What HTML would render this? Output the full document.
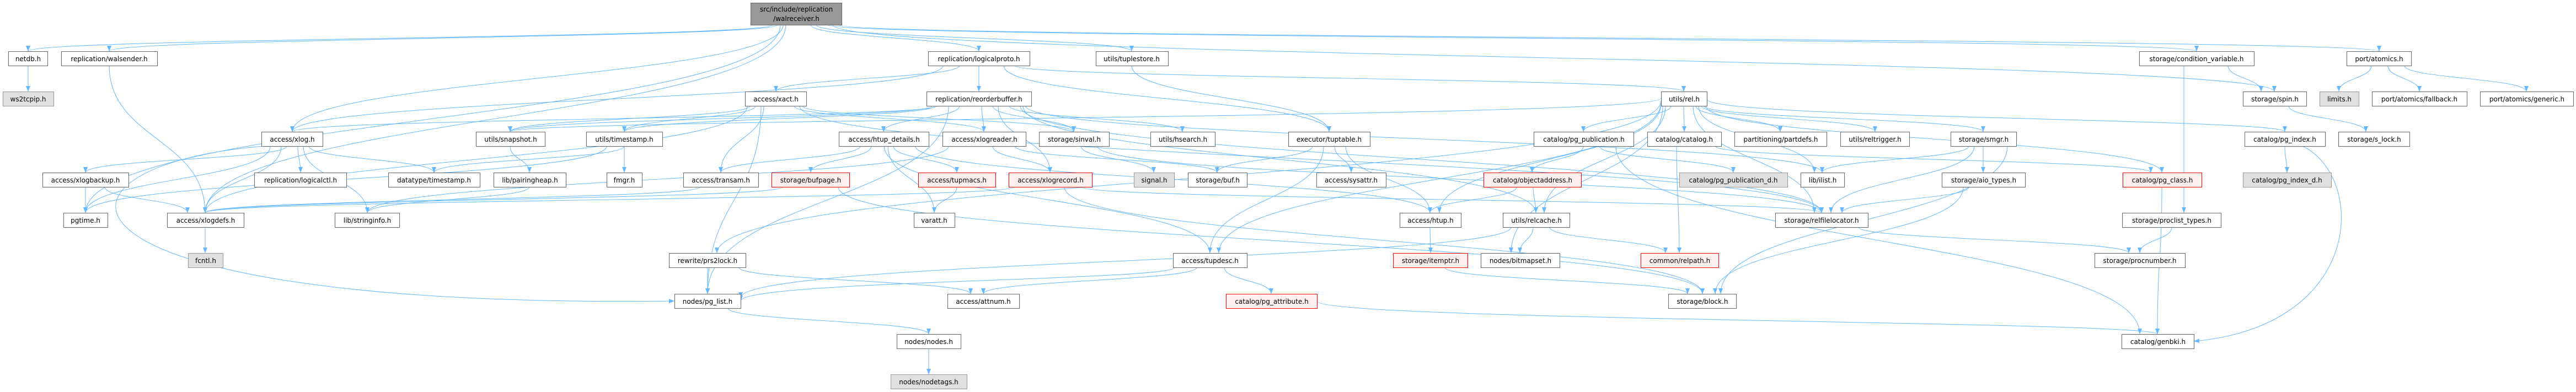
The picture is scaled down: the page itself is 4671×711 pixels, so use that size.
<!DOCTYPE html>
<html><head><meta charset="utf-8"><style>
html,body{margin:0;padding:0;background:#fff;}
svg{display:block;}
text{font-family:"DejaVu Sans","Liberation Sans",sans-serif;font-size:12px;fill:#000;text-anchor:middle;}
.n{fill:#fff;stroke:#666;stroke-width:1;}
.r{fill:#fff0f0;stroke:#f00;stroke-width:1;}
.g{fill:#e0e0e0;stroke:#999;stroke-width:1;}
.t{fill:#999;stroke:#666;stroke-width:1;}
.e path{fill:none;stroke:#63b8ff;stroke-width:1;marker-end:url(#a);}
</style></head><body>
<svg width="4671" height="711" viewBox="0 0 4671 711" xmlns="http://www.w3.org/2000/svg">
<defs><marker id="a" markerWidth="10" markerHeight="8" refX="10" refY="4" orient="auto" markerUnits="userSpaceOnUse"><path d="M0,0 L10,4 L0,8 z" fill="#63b8ff"/></marker></defs>
<g class="e">
<path d="M1400,45 C1400,69 51,69 51,93"/>
<path d="M1410,45 C1410,69 198,69 198,93"/>
<path d="M1420,45 C1420,142 530,142 530,239"/>
<path d="M1425,45 C1425,215 372,215 372,386"/>
<path d="M1415,45 C1415,215 155,215 155,386"/>
<path d="M1470,45 C1470,69 1775,69 1775,93"/>
<path d="M1480,45 C1480,69 2052,69 2052,93"/>
<path d="M1500,45 C1500,69 3983,69 3983,93"/>
<path d="M1510,45 C1510,105 4124,105 4124,166"/>
<path d="M1520,45 C1520,69 4314,69 4314,93"/>
<path d="M51,119 C51,142 51,142 51,166"/>
<path d="M198,119 C198,252 372,252 372,386"/>
<path d="M520,265 C520,289 155,289 155,313"/>
<path d="M540,265 C540,289 545,289 545,313"/>
<path d="M560,265 C560,289 787,289 787,313"/>
<path d="M510,265 C510,325 372,325 372,386"/>
<path d="M550,265 C550,325 666,325 666,386"/>
<path d="M490,265 C490,325 155,325 155,386"/>
<path d="M480,265 C40,300 40,560 1223,546"/>
<path d="M155,339 C155,362 155,362 155,386"/>
<path d="M190,339 C190,362 340,362 340,386"/>
<path d="M372,412 C372,435 372,435 372,459"/>
<path d="M1775,119 C1775,142 1775,142 1775,166"/>
<path d="M1710,119 C1710,179 530,179 530,239"/>
<path d="M1840,119 C1840,142 3053,142 3053,166"/>
<path d="M1820,119 C1820,179 2410,179 2410,239"/>
<path d="M1740,119 C1740,142 1407,142 1407,166"/>
<path d="M2052,119 C2052,179 2410,179 2410,239"/>
<path d="M1700,192 C1700,215 530,215 530,239"/>
<path d="M1740,192 C1740,215 1602,215 1602,239"/>
<path d="M1780,192 C1780,215 1784,215 1784,239"/>
<path d="M1800,192 C1800,215 1947,215 1947,239"/>
<path d="M1830,192 C1830,215 2144,215 2144,239"/>
<path d="M1690,192 C1690,215 925,215 925,239"/>
<path d="M1695,192 C1695,215 1132,215 1132,239"/>
<path d="M1850,192 C1850,289 3303,289 3303,386"/>
<path d="M1810,192 C1810,252 1904,252 1904,313"/>
<path d="M1720,192 C1720,362 1283,362 1283,533"/>
<path d="M1860,192 C1860,252 3304,252 3304,313"/>
<path d="M1855,192 C1855,289 2785,289 2785,386"/>
<path d="M1385,192 C1385,252 1307,252 1307,313"/>
<path d="M1360,192 C1360,215 925,215 925,239"/>
<path d="M1370,192 C1370,215 1132,215 1132,239"/>
<path d="M1440,192 C1440,215 1784,215 1784,239"/>
<path d="M1450,192 C1450,289 3303,289 3303,386"/>
<path d="M1455,192 C1455,215 1947,215 1947,239"/>
<path d="M1380,192 C1380,362 1283,362 1283,533"/>
<path d="M1355,192 C1355,289 372,289 372,386"/>
<path d="M925,265 C925,289 960,289 960,313"/>
<path d="M1132,265 C1132,289 787,289 787,313"/>
<path d="M1132,265 C1132,289 1132,289 1132,313"/>
<path d="M1100,265 C1100,325 155,325 155,386"/>
<path d="M960,339 C960,362 666,362 666,386"/>
<path d="M1560,265 C1560,289 1307,289 1307,313"/>
<path d="M1580,265 C1580,289 1470,289 1470,313"/>
<path d="M1620,265 C1620,289 1735,289 1735,313"/>
<path d="M1610,265 C1610,325 1694,325 1694,386"/>
<path d="M1603,265 C1603,362 2194,362 2194,459"/>
<path d="M1660,265 C1660,325 2593,325 2593,386"/>
<path d="M1800,265 C1800,289 1904,289 1904,313"/>
<path d="M1720,265 C1720,325 666,325 666,386"/>
<path d="M1840,265 C1840,289 2207,289 2207,313"/>
<path d="M1930,339 C1930,436 3087,436 3087,533"/>
<path d="M1960,339 C1960,362 3303,362 3303,386"/>
<path d="M1840,339 C1840,362 372,362 372,386"/>
<path d="M1960,265 C1960,289 2092,289 2092,313"/>
<path d="M1990,265 C1990,325 3303,325 3303,386"/>
<path d="M2380,265 C2380,289 2207,289 2207,313"/>
<path d="M2420,265 C2420,289 2450,289 2450,313"/>
<path d="M2440,265 C2440,325 2593,325 2593,386"/>
<path d="M2400,265 C2400,362 2194,362 2194,459"/>
<path d="M1735,339 C1735,362 1694,362 1694,386"/>
<path d="M1520,339 C1520,436 3087,436 3087,533"/>
<path d="M1420,339 C1420,362 372,362 372,386"/>
<path d="M1270,339 C1270,362 372,362 372,386"/>
<path d="M2170,485 C2170,509 1783,509 1783,533"/>
<path d="M2220,485 C2220,509 2305,509 2305,533"/>
<path d="M2130,485 C2130,509 1343,509 1343,546"/>
<path d="M2388,546 C2388,582 3912,582 3912,606"/>
<path d="M1283,485 C1283,509 1283,509 1283,533"/>
<path d="M1340,485 C1340,509 1760,509 1760,533"/>
<path d="M1320,559 C1320,582 1684,582 1684,606"/>
<path d="M1684,632 C1684,655 1684,655 1684,679"/>
<path d="M3030,192 C3030,215 2871,215 2871,239"/>
<path d="M3053,192 C3053,215 3054,215 3054,239"/>
<path d="M3075,192 C3075,215 3228,215 3228,239"/>
<path d="M3085,192 C3085,215 3400,215 3400,239"/>
<path d="M3090,192 C3090,215 3596,215 3596,239"/>
<path d="M3093,192 C3093,252 3920,252 3920,313"/>
<path d="M3095,180 C3095,215 4143,215 4143,239"/>
<path d="M3020,192 C3020,289 2800,289 2800,386"/>
<path d="M3070,192 C3070,289 3290,289 3290,386"/>
<path d="M3015,192 C3015,325 2740,325 2740,459"/>
<path d="M3012,185 C3012,325 2210,325 2210,459"/>
<path d="M3012,188 C3012,289 2610,289 2610,386"/>
<path d="M3012,182 C3012,325 1300,325 1300,459"/>
<path d="M3080,192 C3080,252 3290,252 3290,313"/>
<path d="M3012,178 C3012,215 925,215 925,239"/>
<path d="M2871,265 C2871,289 2778,289 2778,313"/>
<path d="M2900,265 C2900,289 3143,289 3143,313"/>
<path d="M2930,265 C2930,436 3880,436 3880,606"/>
<path d="M2750,339 C2750,362 2593,362 2593,386"/>
<path d="M2780,339 C2780,362 2785,362 2785,386"/>
<path d="M2593,412 C2593,435 2594,435 2594,459"/>
<path d="M2620,485 C2620,509 3060,509 3060,533"/>
<path d="M2780,412 C2780,435 2756,435 2756,459"/>
<path d="M2810,412 C2810,435 3020,435 3020,459"/>
<path d="M2740,412 C2740,472 1343,472 1343,540"/>
<path d="M3040,265 C3040,362 3045,362 3045,459"/>
<path d="M3110,265 C3110,289 3900,289 3900,313"/>
<path d="M3570,265 C3570,289 3304,289 3304,313"/>
<path d="M3596,265 C3596,289 3596,289 3596,313"/>
<path d="M3580,265 C3580,325 3320,325 3320,386"/>
<path d="M3640,265 C3640,400 3120,400 3120,533"/>
<path d="M3570,339 C3570,362 3340,362 3340,386"/>
<path d="M3560,339 C3560,436 3110,436 3110,533"/>
<path d="M3370,412 C3370,435 3860,435 3860,459"/>
<path d="M3920,339 C3920,470 3912,470 3912,606"/>
<path d="M3960,119 C3960,250 3960,250 3960,386"/>
<path d="M4040,119 C4040,142 4100,142 4100,166"/>
<path d="M3938,412 C3938,435 3880,435 3880,459"/>
<path d="M4150,192 C4150,215 4290,215 4290,239"/>
<path d="M4300,119 C4300,142 4241,142 4241,166"/>
<path d="M4330,119 C4330,142 4387,142 4387,166"/>
<path d="M4360,119 C4360,142 4581,142 4581,166"/>
<path d="M4143,265 C4143,289 4147,289 4147,313"/>
<path d="M4175,265 C4290,320 4290,590 3978,619"/>
</g>
<g>
<rect class="t" x="1361.5" y="5.5" width="165" height="40"/><text x="1444" y="21">src/include/replication</text><text x="1444" y="38">/walreceiver.h</text>
<rect class="n" x="15.5" y="93.5" width="71" height="26"/><text x="51" y="111">netdb.h</text>
<rect class="n" x="111.5" y="93.5" width="174" height="26"/><text x="198" y="111">replication/walsender.h</text>
<rect class="n" x="1683.5" y="93.5" width="184" height="26"/><text x="1775" y="111">replication/logicalproto.h</text>
<rect class="n" x="1987.5" y="93.5" width="131" height="26"/><text x="2052" y="111">utils/tuplestore.h</text>
<rect class="n" x="3879.5" y="93.5" width="208" height="26"/><text x="3983" y="111">storage/condition_variable.h</text>
<rect class="n" x="4255.5" y="93.5" width="117" height="26"/><text x="4314" y="111">port/atomics.h</text>
<rect class="g" x="5.5" y="166.5" width="92" height="26"/><text x="51" y="184">ws2tcpip.h</text>
<rect class="n" x="1351.5" y="166.5" width="111" height="26"/><text x="1407" y="184">access/xact.h</text>
<rect class="n" x="1680.5" y="166.5" width="190" height="26"/><text x="1775" y="184">replication/reorderbuffer.h</text>
<rect class="n" x="3012.5" y="166.5" width="83" height="26"/><text x="3054" y="184">utils/rel.h</text>
<rect class="n" x="4067.5" y="166.5" width="115" height="26"/><text x="4125" y="184">storage/spin.h</text>
<rect class="g" x="4206.5" y="166.5" width="71" height="26"/><text x="4242" y="184">limits.h</text>
<rect class="n" x="4301.5" y="166.5" width="172" height="26"/><text x="4387" y="184">port/atomics/fallback.h</text>
<rect class="n" x="4497.5" y="166.5" width="169" height="26"/><text x="4582" y="184">port/atomics/generic.h</text>
<rect class="n" x="474.5" y="239.5" width="111" height="26"/><text x="530" y="257">access/xlog.h</text>
<rect class="n" x="863.5" y="239.5" width="125" height="26"/><text x="926" y="257">utils/snapshot.h</text>
<rect class="n" x="1063.5" y="239.5" width="138" height="26"/><text x="1132" y="257">utils/timestamp.h</text>
<rect class="n" x="1521.5" y="239.5" width="163" height="26"/><text x="1603" y="257">access/htup_details.h</text>
<rect class="n" x="1709.5" y="239.5" width="151" height="26"/><text x="1785" y="257">access/xlogreader.h</text>
<rect class="n" x="1884.5" y="239.5" width="127" height="26"/><text x="1948" y="257">storage/sinval.h</text>
<rect class="n" x="2086.5" y="239.5" width="117" height="26"/><text x="2145" y="257">utils/hsearch.h</text>
<rect class="n" x="2336.5" y="239.5" width="148" height="26"/><text x="2410" y="257">executor/tuptable.h</text>
<rect class="n" x="2781.5" y="239.5" width="181" height="26"/><text x="2872" y="257">catalog/pg_publication.h</text>
<rect class="n" x="2987.5" y="239.5" width="134" height="26"/><text x="3054" y="257">catalog/catalog.h</text>
<rect class="n" x="3145.5" y="239.5" width="167" height="26"/><text x="3229" y="257">partitioning/partdefs.h</text>
<rect class="n" x="3337.5" y="239.5" width="125" height="26"/><text x="3400" y="257">utils/reltrigger.h</text>
<rect class="n" x="3537.5" y="239.5" width="119" height="26"/><text x="3597" y="257">storage/smgr.h</text>
<rect class="n" x="4070.5" y="239.5" width="146" height="26"/><text x="4143" y="257">catalog/pg_index.h</text>
<rect class="n" x="4240.5" y="239.5" width="129" height="26"/><text x="4305" y="257">storage/s_lock.h</text>
<rect class="n" x="77.5" y="313.5" width="156" height="26"/><text x="155" y="331">access/xlogbackup.h</text>
<rect class="n" x="461.5" y="313.5" width="167" height="26"/><text x="545" y="331">replication/logicalctl.h</text>
<rect class="n" x="704.5" y="313.5" width="166" height="26"/><text x="787" y="331">datatype/timestamp.h</text>
<rect class="n" x="895.5" y="313.5" width="131" height="26"/><text x="961" y="331">lib/pairingheap.h</text>
<rect class="n" x="1100.5" y="313.5" width="64" height="26"/><text x="1132" y="331">fmgr.h</text>
<rect class="n" x="1239.5" y="313.5" width="136" height="26"/><text x="1307" y="331">access/transam.h</text>
<rect class="r" x="1399.5" y="313.5" width="141" height="26"/><text x="1470" y="331">storage/bufpage.h</text>
<rect class="r" x="1665.5" y="313.5" width="140" height="26"/><text x="1735" y="331">access/tupmacs.h</text>
<rect class="r" x="1829.5" y="313.5" width="151" height="26"/><text x="1905" y="331">access/xlogrecord.h</text>
<rect class="g" x="2056.5" y="313.5" width="73" height="26"/><text x="2093" y="331">signal.h</text>
<rect class="n" x="2154.5" y="313.5" width="107" height="26"/><text x="2208" y="331">storage/buf.h</text>
<rect class="n" x="2387.5" y="313.5" width="126" height="26"/><text x="2450" y="331">access/sysattr.h</text>
<rect class="r" x="2690.5" y="313.5" width="177" height="26"/><text x="2779" y="331">catalog/objectaddress.h</text>
<rect class="g" x="3045.5" y="313.5" width="196" height="26"/><text x="3143" y="331">catalog/pg_publication_d.h</text>
<rect class="n" x="3265.5" y="313.5" width="79" height="26"/><text x="3305" y="331">lib/ilist.h</text>
<rect class="n" x="3521.5" y="313.5" width="151" height="26"/><text x="3597" y="331">storage/aio_types.h</text>
<rect class="r" x="3849.5" y="313.5" width="143" height="26"/><text x="3921" y="331">catalog/pg_class.h</text>
<rect class="g" x="4067.5" y="313.5" width="160" height="26"/><text x="4147" y="331">catalog/pg_index_d.h</text>
<rect class="n" x="115.5" y="386.5" width="80" height="26"/><text x="155" y="404">pgtime.h</text>
<rect class="n" x="303.5" y="386.5" width="139" height="26"/><text x="373" y="404">access/xlogdefs.h</text>
<rect class="n" x="607.5" y="386.5" width="117" height="26"/><text x="666" y="404">lib/stringinfo.h</text>
<rect class="n" x="1657.5" y="386.5" width="74" height="26"/><text x="1694" y="404">varatt.h</text>
<rect class="n" x="2538.5" y="386.5" width="111" height="26"/><text x="2594" y="404">access/htup.h</text>
<rect class="n" x="2725.5" y="386.5" width="121" height="26"/><text x="2786" y="404">utils/relcache.h</text>
<rect class="n" x="3219.5" y="386.5" width="168" height="26"/><text x="3303" y="404">storage/relfilelocator.h</text>
<rect class="n" x="3848.5" y="386.5" width="179" height="26"/><text x="3938" y="404">storage/proclist_types.h</text>
<rect class="g" x="341.5" y="459.5" width="63" height="26"/><text x="373" y="477">fcntl.h</text>
<rect class="n" x="1213.5" y="459.5" width="139" height="26"/><text x="1283" y="477">rewrite/prs2lock.h</text>
<rect class="n" x="2127.5" y="459.5" width="134" height="26"/><text x="2194" y="477">access/tupdesc.h</text>
<rect class="r" x="2526.5" y="459.5" width="135" height="26"/><text x="2594" y="477">storage/itemptr.h</text>
<rect class="n" x="2685.5" y="459.5" width="143" height="26"/><text x="2757" y="477">nodes/bitmapset.h</text>
<rect class="r" x="2975.5" y="459.5" width="141" height="26"/><text x="3046" y="477">common/relpath.h</text>
<rect class="n" x="3798.5" y="459.5" width="164" height="26"/><text x="3880" y="477">storage/procnumber.h</text>
<rect class="n" x="1223.5" y="533.5" width="120" height="26"/><text x="1283" y="551">nodes/pg_list.h</text>
<rect class="n" x="1718.5" y="533.5" width="130" height="26"/><text x="1783" y="551">access/attnum.h</text>
<rect class="r" x="2223.5" y="533.5" width="165" height="26"/><text x="2306" y="551">catalog/pg_attribute.h</text>
<rect class="n" x="3025.5" y="533.5" width="123" height="26"/><text x="3087" y="551">storage/block.h</text>
<rect class="n" x="1626.5" y="606.5" width="116" height="26"/><text x="1684" y="624">nodes/nodes.h</text>
<rect class="n" x="3847.5" y="606.5" width="131" height="26"/><text x="3913" y="624">catalog/genbki.h</text>
<rect class="g" x="1615.5" y="679.5" width="138" height="26"/><text x="1684" y="697">nodes/nodetags.h</text>
</g>
</svg>
</body></html>
